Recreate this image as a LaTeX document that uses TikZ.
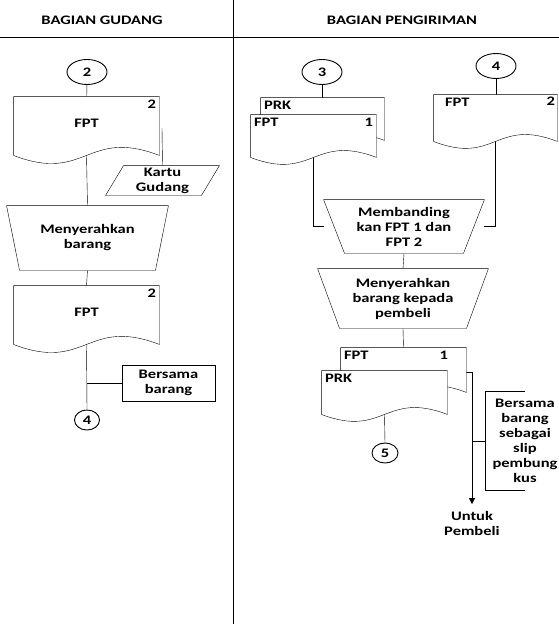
\documentclass[tikz,border=0pt]{standalone}
\usepackage{fontspec}
\setmainfont{Carlito}[FakeStretch=1.27]
\usetikzlibrary{shapes.geometric,calc,backgrounds,arrows.meta}

% outline of a document node: wavy bottom
\newcommand{\gelombang}[2]{%
  \draw[fill=white] (#1.south west) -- (#1.north west) -- (#1.north east) -- (#1.south east)
    .. controls ($(#1.south)+(0,-#2)$) and ($(#1.south)+(0,#2)$) .. (#1.south west) -- cycle;}
% manual operation (wide top)
\newcommand{\opmanual}[2]{%
  \draw[fill=white] (#1.north west) -- (#1.north east) -- ($(#1.south east)+(-#2,0)$) -- ($(#1.south west)+(#2,0)$) -- cycle;}
% input/output
\newcommand{\jajargenjang}[2]{%
  \draw[fill=white] ($(#1.north west)+(#2,0)$) -- ($(#1.north east)+(#2,0)$) -- ($(#1.south east)+(-#2,0)$) -- ($(#1.south west)+(-#2,0)$) -- cycle;}

\tikzset{
  lingkaran/.style={draw, ellipse, fill=white, minimum width=40pt, minimum height=25pt, inner sep=0pt},
  lingkkecil/.style={lingkaran, minimum width=25pt, minimum height=20pt},
  dok/.style={inner sep=0pt, align=center},
  kotak/.style={draw, fill=white, align=center, minimum width=93pt, minimum height=36pt},
  lbl/.style={inner sep=3pt},
  judul/.style={font=\bfseries\fontsize{13}{15}\selectfont}
}

\begin{document}
\begin{tikzpicture}[x=1pt, y=-1pt, line width=0.9pt, font=\bfseries\fontsize{13}{15}\selectfont]
	\useasboundingbox (0,0) rectangle (559,624);
	\draw (0,37) -- (559,37);
	\draw (233,0) -- (233,624);
	\draw (102,20) node[judul] (judulA) {BAGIAN GUDANG};
	\draw (402,20) node[judul] (judulB) {BAGIAN PENGIRIMAN};

	% bagian gudang
	\draw (87,72) node[lingkaran] (lingk2) {2};
	\draw (86.5,126) node[dok, minimum width=145pt, minimum height=58pt] (dokA) {};
	\draw ($(dokA.center)+(0,-3)$) node[dok] (dokAlbl) {FPT};
	\draw (dokA.north east) node[lbl, anchor=north east] (dokAno) {2};
	\coordinate (kartuAtas) at (162,128);
	\draw (162.5,180.5) node[dok, minimum width=95pt, minimum height=29pt] (kartu) {Kartu\\Gudang};
	\draw (87.5,238) node[dok, minimum width=161pt, minimum height=64pt] (serahA) {Menyerahkan\\barang};
	\draw (86.5,315) node[dok, minimum width=145pt, minimum height=58pt] (dokB) {};
	\draw ($(dokB.center)+(0,-3)$) node[dok] (dokBlbl) {FPT};
	\draw (dokB.north east) node[lbl, anchor=north east] (dokBno) {2};
	\draw (168.5,383) node[kotak] (bersama) {Bersama\\barang};
	\draw (87,420) node[lingkkecil] (lingk4a) {4};

	% bagian pengiriman
	\draw (322,72) node[lingkaran] (lingk3) {3};
	\draw (496,66) node[lingkaran] (lingk4b) {4};
	\draw (322.5,119) node[dok, minimum width=123pt, minimum height=42pt] (dokPRK) {};
	\draw (dokPRK.north west) node[lbl, anchor=north west] (dokPRKlbl) {PRK};
	\draw (313.5,136) node[dok, minimum width=125pt, minimum height=42pt] (dokFPT1) {};
	\draw (dokFPT1.north west) node[lbl, anchor=north west] (dokFPT1lbl) {FPT};
	\draw (dokFPT1.north east) node[lbl, anchor=north east] (dokFPT1no) {1};
	\draw (495.5,118) node[dok, minimum width=123pt, minimum height=46pt] (dokFPT2) {};
	\draw ($(dokFPT2.north west)+(8,0)$) node[lbl, anchor=north west] (dokFPT2lbl) {FPT};
	\draw (dokFPT2.north east) node[lbl, inner sep=2pt, anchor=north east] (dokFPT2no) {2};
	\draw (404,226.5) node[dok, minimum width=160pt, minimum height=53pt] (banding) {Membanding\\kan FPT 1 dan\\FPT 2};
	\draw (403,298.5) node[dok, minimum width=170pt, minimum height=59pt] (serahB) {Menyerahkan\\barang kepada\\pembeli};
	\draw (403.5,370) node[dok, minimum width=125pt, minimum height=44pt] (dokFPT1b) {};
	\draw (dokFPT1b.north west) node[lbl, anchor=north west] (dokFPT1blbl) {FPT};
	\draw ($(dokFPT1b.north east)+(-15,0)$) node[lbl, anchor=north east] (dokFPT1bno) {1};
	\draw (384.5,392.5) node[dok, minimum width=125pt, minimum height=43pt] (dokPRKb) {};
	\draw (dokPRKb.north west) node[lbl, anchor=north west] (dokPRKblbl) {PRK};
	\draw (385,453) node[lingkkecil, minimum width=26pt] (lingk5) {5};
	\draw (472,511) node[dok, anchor=north] (untuk) {Untuk\\Pembeli};
	\draw (525,441) node[dok, minimum width=78pt, minimum height=98pt] (catatan) {Bersama\\barang\\sebagai\\slip\\pembung\\kus};

	\begin{scope}[on background layer]
		\draw (lingk2) -- (dokA);
		\draw (dokA.south) -- (serahA.north);
		\draw (kartuAtas) -- (kartu.north);
		\draw (serahA.south) -- (dokB.north);
		\draw (dokB.south) -- (lingk4a.north);
		\draw (bersama.west) -- (bersama.west -| lingk4a.north);
		\draw (lingk3) -- (dokPRK.north -| lingk3);
		\draw (dokFPT1.south) |- (banding.west);
		\draw (lingk4b) -- (dokFPT2.north -| lingk4b);
		\draw (dokFPT2.south) |- (banding.east);
		\draw (banding.south) -- (serahB.north);
		\draw (serahB.south) -- (dokFPT1b.north);
		\draw (dokPRKb.south) -- (lingk5.north);
		\draw[-{Triangle[length=6pt,width=6pt]}, shorten >=7pt] ($(dokFPT1b.north east)+(0,25)$) -| (untuk.north);
		\draw (catatan.west) -- (catatan.west -| untuk.north);
		\draw (catatan.north) -- (catatan.north west) -- (catatan.south west) -- (catatan.south);
		% bentuk
		\gelombang{dokA}{28}
		\jajargenjang{kartu}{9}
		\opmanual{serahA}{13}
		\gelombang{dokB}{28}
		\gelombang{dokPRK}{24}
		\gelombang{dokFPT1}{24}
		\gelombang{dokFPT2}{24}
		\opmanual{banding}{21}
		\opmanual{serahB}{22}
		\gelombang{dokFPT1b}{24}
		\gelombang{dokPRKb}{24}
	\end{scope}
\end{tikzpicture}
\end{document}
